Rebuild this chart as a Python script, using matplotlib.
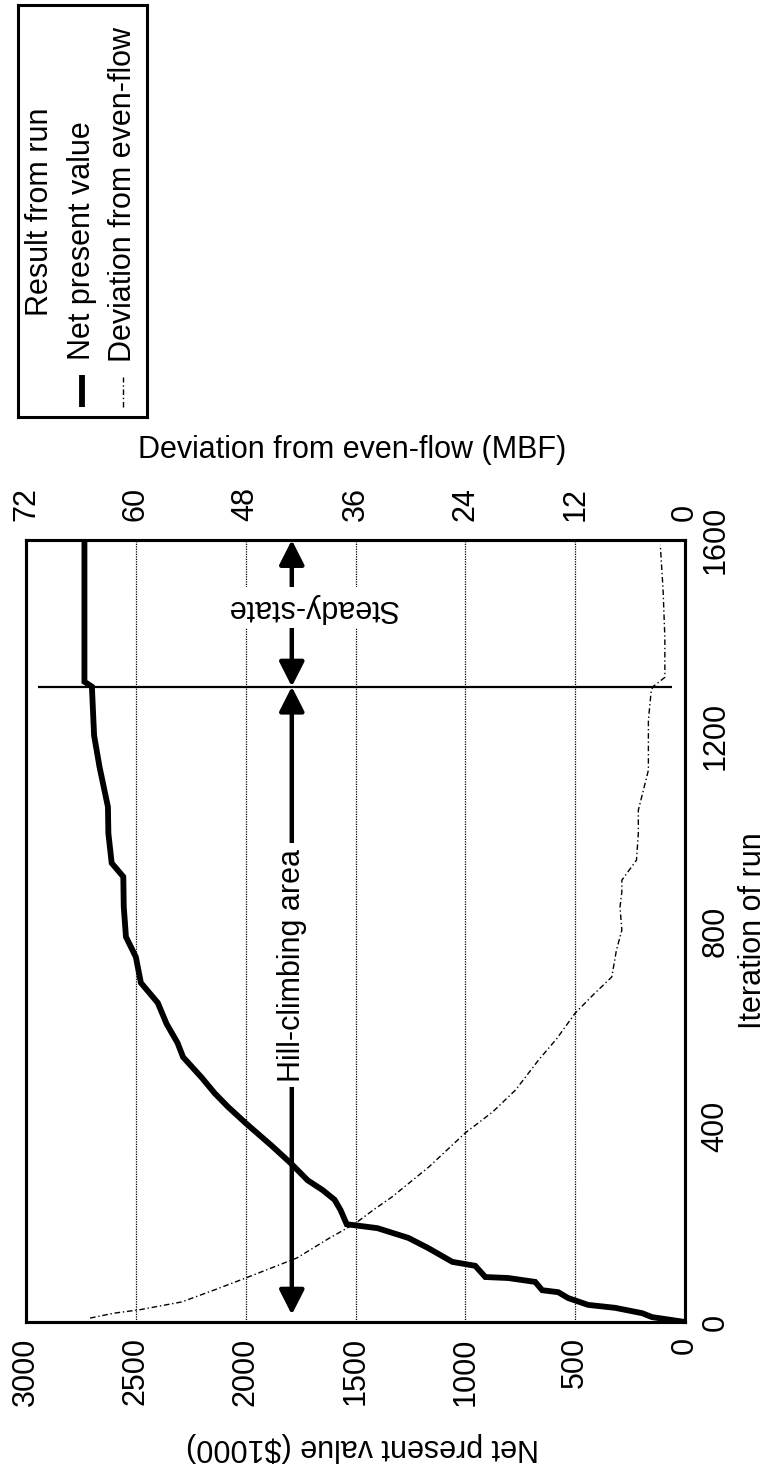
import matplotlib
matplotlib.use("Agg")
import matplotlib.pyplot as plt

plt.rcParams['font.family'] = ['Liberation Sans', 'DejaVu Sans']
plt.rcParams['font.size'] = 22

# net present value ($1000) vs iteration
npv_iter = [0, 10, 18, 29, 35, 49, 61, 65, 82, 90, 92, 115, 123, 151, 172, 192, 200,
            229, 250, 270, 290, 325, 360, 407, 440, 468, 500, 542, 571, 610, 653,
            694, 747, 788, 850, 911, 939, 1000, 1054, 1135, 1200, 1300, 1310, 1600]
npv = [0, 150, 195, 318, 441, 532, 577, 650, 682, 805, 909, 955, 1059, 1168, 1259, 1400, 1540,
       1568, 1595, 1650, 1718, 1795, 1880, 2000, 2080, 2141, 2200, 2285, 2310, 2360, 2400,
       2477, 2500, 2545, 2555, 2557, 2610, 2625, 2627, 2665, 2690, 2700, 2734, 2734]

# deviation from even-flow (MBF) vs iteration
dev_iter = [8, 18, 25, 41, 65, 90, 131, 170, 202, 230, 256, 317, 387, 430, 475, 536, 580,
            632, 670, 706, 760, 802, 849, 880, 904, 945, 1000, 1047, 1129, 1170, 1231,
            1290, 1300, 1319, 1400, 1500, 1590]
dev = [65, 62.4, 59.6, 55, 51.5, 48, 42.4, 39, 36, 34, 32, 28, 24, 21, 18.5, 16, 14,
       12, 10, 8, 7.5, 6.9, 7.1, 6.9, 6.9, 5.3, 5.1, 5.1, 4.0, 4.0, 4.0,
       3.7, 3.5, 2.2, 2.2, 2.4, 2.7]

npv_ticks = [0, 500, 1000, 1500, 2000, 2500, 3000]
dev_ticks = [0, 12, 24, 36, 48, 60, 72]
iter_ticks = [0, 400, 800, 1200, 1600]

steady_iter = 1300
arrow_npv = 1790

W, H = 768, 1468
fig = plt.figure(figsize=(W / 100, H / 100), dpi=100)

# chart is drawn turned a quarter turn: iteration runs up, NPV runs right-to-left
ax = fig.add_axes([26 / W, 1 - 1322 / H, 659 / W, 782 / H])
ax.set_xlim(3000, 0)
ax.set_ylim(0, 1600)

for v in npv_ticks[1:-1]:
    ax.axvline(v, color='k', lw=0.9, ls=(0, (1, 1)), zorder=1)

ax.plot(npv, npv_iter, color='k', lw=4.2, solid_joinstyle='miter', zorder=3)
ax.hlines(steady_iter, 60, 2945, color='k', lw=1.6, zorder=2)

ax.set_xticks(npv_ticks)
ax.set_yticks(iter_ticks)
ax.yaxis.tick_right()
ax.tick_params(length=0)
ax.tick_params(axis='x', pad=11)
ax.tick_params(axis='y', pad=11)
plt.setp(ax.get_xticklabels(), rotation=90)
plt.setp(ax.get_yticklabels(), rotation=90, va='center')

ax.set_xlabel('Net present value ($1000)', rotation=180, va='center', ha='center')
ax.xaxis.set_label_coords(0.51, -0.16)
ax.yaxis.set_label_position('right')
ax.set_ylabel('Iteration of run', rotation=90, va='center', ha='center')
ax.yaxis.set_label_coords(1.103, 0.5)

for s in ax.spines.values():
    s.set_linewidth(2.2)

ax2 = ax.twiny()
ax2.set_xlim(72, 0)
ax2.plot(dev, dev_iter, color='k', lw=1.0, ls=(0, (4, 2, 1, 2)), zorder=3)
ax2.set_xticks(dev_ticks)
ax2.tick_params(length=0, pad=14)
plt.setp(ax2.get_xticklabels(), rotation=90)
ax2.get_xticklabels()[0].set_x(0.6)
ax2.set_xlabel('Deviation from even-flow (MBF)', va='center', ha='center')
ax2.xaxis.set_label_coords(0.495, 1.115)
for s in ax2.spines.values():
    s.set_linewidth(2.2)

# region arrows
head = dict(arrowstyle='<|-|>,head_length=0.75,head_width=0.38', lw=3.2, color='k',
            shrinkA=0, shrinkB=0, mutation_scale=20)
ax.annotate('', xy=(arrow_npv, steady_iter), xytext=(arrow_npv, 15), arrowprops=head, zorder=4)
ax.annotate('', xy=(arrow_npv, 1600), xytext=(arrow_npv, steady_iter), arrowprops=head, zorder=4)
ax.text(arrow_npv, 730, 'Hill-climbing area', rotation=90, ha='center', va='center',
        bbox=dict(fc='white', ec='none', pad=4), zorder=5)
ax.text(1700, 1461, 'Steady-state', rotation=180, ha='center', va='center',
        bbox=dict(fc='white', ec='none', pad=4), zorder=5)

# legend box, turned like the chart
lg = fig.add_axes([18 / W, 1 - 417 / H, 129 / W, 412 / H])
lg.set_xlim(0, 1)
lg.set_ylim(0, 1)
lg.set_xticks([])
lg.set_yticks([])
for s in lg.spines.values():
    s.set_linewidth(2.2)
lg.text(0.17, 0.498, 'Result from run', rotation=90, ha='center', va='center')
lg.text(0.496, 0.138, 'Net present value', rotation=90, ha='center', va='bottom')
lg.text(0.814, 0.134, 'Deviation from even-flow', rotation=90, ha='center', va='bottom')
lg.plot([0.496, 0.496], [0.024, 0.102], color='k', lw=4.2, solid_capstyle='butt')
lg.plot([0.814, 0.814], [0.024, 0.097], color='k', lw=1.0, ls=(0, (4, 2, 1, 2)))

fig.savefig('out.png', dpi=100)
